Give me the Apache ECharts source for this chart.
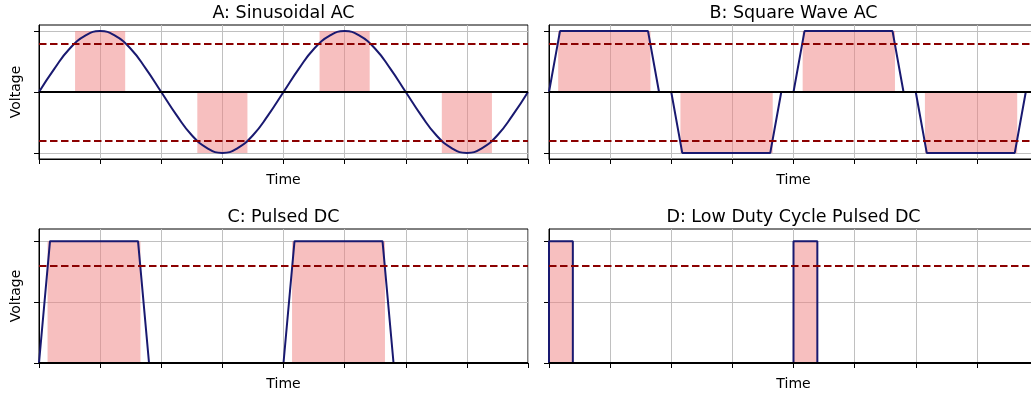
<!DOCTYPE html>
<html><head><meta charset="utf-8">
<script src="https://cdn.jsdelivr.net/npm/echarts@6/dist/echarts.min.js"></script>
<style>html,body{margin:0;padding:0;background:#fff;overflow:hidden}#c{width:1040px;height:398px}</style>
</head><body><div id="c"></div>
<script>
// ---------- data ----------
const titles = ['A: Sinusoidal AC', 'B: Square Wave AC', 'C: Pulsed DC', 'D: Low Duty Cycle Pulsed DC'];
const xTickValues = [0, 1, 2, 3, 4, 5, 6, 7, 8];
const acYTicks = [-1, 0, 1];
const dcYTicks = [0, 0.5, 1];
const thresholdAC = [0.8, -0.8];
const thresholdDC = [0.8];

const sineT = [0, 0.25, 0.5, 0.75, 1, 1.25, 1.5, 1.75, 2, 2.25, 2.5, 2.75, 3, 3.25, 3.5, 3.75, 4,
  4.25, 4.5, 4.75, 5, 5.25, 5.5, 5.75, 6, 6.25, 6.5, 6.75, 7, 7.25, 7.5, 7.75, 8];
const sineV = [0, 0.38, 0.71, 0.92, 1, 0.92, 0.71, 0.38, 0, -0.38, -0.71, -0.92, -1, -0.92, -0.71, -0.38, 0,
  0.38, 0.71, 0.92, 1, 0.92, 0.71, 0.38, 0, -0.38, -0.71, -0.92, -1, -0.92, -0.71, -0.38, 0];

const squareT = [0, 0.18, 1.62, 1.8, 2.0, 2.18, 3.62, 3.8, 4.0, 4.18, 5.62, 5.8, 6.0, 6.18, 7.62, 7.8, 8.0];
const squareV = [0, 1, 1, 0, 0, -1, -1, 0, 0, 1, 1, 0, 0, -1, -1, 0, 0];

const pulseT = [0, 0.18, 1.62, 1.8, 4.0, 4.18, 5.62, 5.8, 8.0];
const pulseV = [0, 1, 1, 0, 0, 1, 1, 0, 0];

const lowT = [0, 0, 0.39, 0.39, 4.0, 4.0, 4.39, 4.39, 8.0];
const lowV = [0, 1, 1, 0, 0, 1, 1, 0, 0];

// shaded intervals [start, end, level]
const sineShade = [[0.59, 1.41, 1], [2.59, 3.41, -1], [4.59, 5.41, 1], [6.59, 7.41, -1]];
const squareShade = [[0.15, 1.66, 1], [2.15, 3.66, -1], [4.15, 5.66, 1], [6.15, 7.66, -1]];
const pulseShade = [[0.14, 1.66, 1], [4.14, 5.66, 1]];
const lowShade = [[0, 0.39, 1], [4.0, 4.39, 1]];

// ---------- layout / style ----------
const FONT = 'DejaVu Sans';
const grids = [
  { left: 39, top: 25, width: 489, height: 134 },
  { left: 549, top: 25, width: 489, height: 134 },
  { left: 39, top: 229, width: 489, height: 134 },
  { left: 549, top: 229, width: 489, height: 134 }
];
const panels = [
  { t: sineT, v: sineV, shade: sineShade, ac: true, smooth: true, yName: 'Voltage' },
  { t: squareT, v: squareV, shade: squareShade, ac: true, smooth: false, yName: '' },
  { t: pulseT, v: pulseV, shade: pulseShade, ac: false, smooth: false, yName: 'Voltage' },
  { t: lowT, v: lowV, shade: lowShade, ac: false, smooth: false, yName: '' }
];

const NAVY = '#191970';
const DARKRED = '#8b0000';
const GRIDC = '#c0c0c0';

const option = {
  animation: false,
  backgroundColor: '#fff',
  title: titles.map((t, i) => ({
    text: t,
    left: grids[i].left + grids[i].width / 2,
    top: i < 2 ? 4 : 208,
    textAlign: 'center',
    padding: 0,
    textStyle: { fontFamily: FONT, fontSize: 17.5, fontWeight: 'normal', color: '#000' }
  })),
  grid: grids.map(g => Object.assign({ show: true, borderColor: '#000', borderWidth: 1, backgroundColor: 'transparent' }, g)),
  xAxis: panels.map((p, i) => ({
    type: 'value', gridIndex: i, min: 0, max: 8, interval: 1,
    axisLabel: { show: false },
    axisTick: { show: true, inside: false, length: 5, lineStyle: { color: '#000', width: 1 } },
    axisLine: { show: true, onZero: false, lineStyle: { color: '#000', width: 1 } },
    splitLine: { show: true, lineStyle: { color: GRIDC, width: 1 } },
    name: 'Time', nameLocation: 'middle', nameGap: 14,
    nameTextStyle: { fontFamily: FONT, fontSize: 14, color: '#000' }
  })),
  yAxis: panels.map((p, i) => ({
    type: 'value', gridIndex: i,
    min: p.ac ? -1.1 : 0, max: 1.1,
    axisLabel: { show: false, customValues: p.ac ? acYTicks : dcYTicks },
    axisTick: { show: true, inside: false, length: 5, customValues: p.ac ? acYTicks : dcYTicks,
      lineStyle: { color: '#000', width: 1 } },
    axisLine: { show: true, onZero: false, lineStyle: { color: '#000', width: 1 } },
    splitLine: { show: true, lineStyle: { color: GRIDC, width: 1 } },
    name: p.yName, nameLocation: 'middle', nameGap: 16, nameRotate: 90,
    nameTextStyle: { fontFamily: FONT, fontSize: 14, color: '#000' }
  })),
  series: []
};

panels.forEach((p, i) => {
  const pts = p.t.map((t, k) => [t, p.v[k]]);
  // shading
  option.series.push({
    type: 'line', xAxisIndex: i, yAxisIndex: i, data: pts, z: 1,
    symbol: 'none', lineStyle: { opacity: 0 }, silent: true,
    markArea: {
      silent: true,
      itemStyle: { color: 'rgba(240,128,128,0.5)' },
      data: p.shade.map(s => [{ coord: [s[0], 0] }, { coord: [s[1], s[2]] }])
    }
  });
  // thresholds
  option.series.push({
    type: 'line', xAxisIndex: i, yAxisIndex: i, data: pts, z: 2,
    symbol: 'none', lineStyle: { opacity: 0 }, silent: true,
    markLine: {
      silent: true, symbol: ['none', 'none'], label: { show: false },
      lineStyle: { color: DARKRED, width: 2, type: [7.5, 3.5] },
      data: (p.ac ? thresholdAC : thresholdDC).map(y => ({ yAxis: y }))
    }
  });
  // zero line
  option.series.push({
    type: 'line', xAxisIndex: i, yAxisIndex: i, data: pts, z: 3,
    symbol: 'none', lineStyle: { opacity: 0 }, silent: true,
    markLine: {
      silent: true, symbol: ['none', 'none'], label: { show: false },
      lineStyle: { color: '#000', width: 1.8, type: 'solid' },
      data: [{ yAxis: 0 }]
    }
  });
  // waveform
  option.series.push({
    type: 'line', xAxisIndex: i, yAxisIndex: i, data: pts, z: 4,
    symbol: 'none', showSymbol: false, smooth: p.smooth,
    lineStyle: { color: NAVY, width: 2 }
  });
});

const chart = echarts.init(document.getElementById('c'), null, { renderer: 'canvas', width: 1040, height: 398 });
chart.setOption(option);
</script>
</body></html>
